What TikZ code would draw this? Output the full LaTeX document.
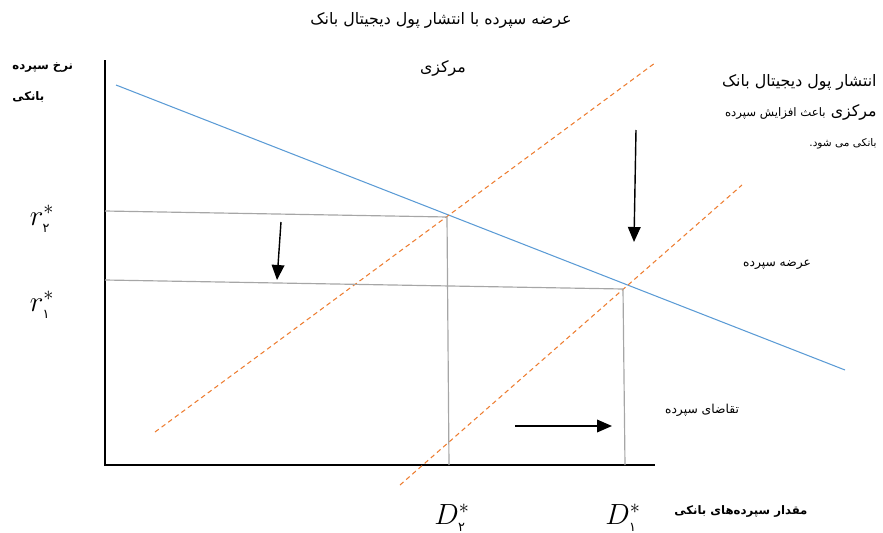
\documentclass[tikz,border=0pt]{standalone}
\usepackage{fontspec}
\usetikzlibrary{arrows.meta, positioning}
\newfontfamily\farsi[Script=Arabic]{DejaVu Sans}
\TeXXeTstate=1
\definecolor{supblue}{HTML}{5B9BD5}
\definecolor{demorange}{HTML}{ED7D31}
\definecolor{guidegray}{HTML}{A6A6A6}
\newcommand{\fasub}[1]{\mbox{\farsi\fontsize{11}{13}\selectfont #1}}

\begin{document}
\begin{tikzpicture}[
  x=0.03cm, y=-0.03cm,
  axisline/.style={draw=black, line width=1.1pt},
  supply/.style={draw=supblue, line width=0.9pt},
  demand/.style={draw=demorange, line width=0.9pt, dash pattern=on 4pt off 3pt},
  guide/.style={draw=guidegray, line width=1pt},
  shiftarrow/.style={-{Triangle[length=4.5mm, width=3.8mm]}, line width=1.2pt},
  biglabel/.style={font=\farsi\fontsize{13.5}{16}\selectfont, inner sep=1pt},
  falabel/.style={font=\farsi\fontsize{10.5}{13}\selectfont, inner sep=1pt},
  faboldlabel/.style={font=\farsi\fontsize{10}{12}\selectfont\bfseries, inner sep=1pt},
  eqlabel/.style={font=\fontsize{23}{27}\selectfont, inner sep=1pt}
]
  \useasboundingbox (0,0) rectangle (883,533);

  %% Axes
  \coordinate (O) at (105,465);
  \coordinate (ytop) at (105,60);
  \coordinate (xend) at (655,465);
  \draw[axisline] (ytop) -- (O) -- (xend);

  %% Supply (blue) and demand (dashed orange)
  \coordinate (s1) at (116,85);   \coordinate (s2) at (845,370);
  \coordinate (dA1) at (155,432); \coordinate (dA2) at (655,63);
  \coordinate (dB1) at (400,485); \coordinate (dB2) at (742,185);
  \draw[supply] (s1) -- (s2);
  \draw[demand] (dA1) -- (dA2);
  \draw[demand] (dB1) -- (dB2);

  %% Equilibrium guides
  \coordinate (r2) at (105,211); \coordinate (e2) at (447,217); \coordinate (d2) at (449,465);
  \coordinate (r1) at (105,280); \coordinate (e1) at (623,289); \coordinate (d1) at (625,465);
  \draw[guide] (r2) -- (e2) -- (d2);
  \draw[guide] (r1) -- (e1) -- (d1);

  %% Shift arrows
  \coordinate (a1s) at (281,222); \coordinate (a1e) at (277,280);
  \coordinate (a2s) at (636,130); \coordinate (a2e) at (634,242);
  \coordinate (a3s) at (515,426); \coordinate (a3e) at (612,426);
  \draw[shiftarrow] (a1s) -- (a1e);
  \draw[shiftarrow] (a2s) -- (a2e);
  \draw[shiftarrow] (a3s) -- (a3e);

  %% Title
  \node[biglabel] (title) at (441,20) {\beginR عرضه سپرده با انتشار پول دیجیتال بانک\endR};
  \node[biglabel] (title2) at (443,68) {\beginR مرکزی\endR};

  %% Axis labels
  \node[faboldlabel, anchor=west] (ylab1) at (11,68) {\beginR نرخ سپرده\endR};
  \node[faboldlabel, anchor=west] (ylab2) at (11,97) {\beginR بانکی\endR};
  \node[faboldlabel] (xlab) at (741,511) {\beginR مقدار سپرده‌های بانکی\endR};

  %% Curve labels
  \node[falabel] (suplab) at (777,265) {\beginR عرضه سپرده\endR};
  \node[falabel] (demlab) at (702,410) {\beginR تقاضای سپرده\endR};
  \node[biglabel, anchor=east] (note1) at (878,82) {\beginR انتشار پول دیجیتال بانک\endR};
  \node[biglabel, anchor=east] (note2) at (878,112)
    {\beginR مرکزی {\farsi\fontsize{10}{12}\selectfont باعث افزایش سپرده}\endR};
  \node[falabel, anchor=east, font=\farsi\fontsize{9}{11}\selectfont] (note3) at (878,144)
    {\beginR بانکی می شود.\endR};

  %% Equilibrium values
  \node[eqlabel] (r2lab) at (42,219) {$r^{*}_{\fasub{۲}}$};
  \node[eqlabel] (r1lab) at (42,305) {$r^{*}_{\fasub{۱}}$};
  \node[eqlabel] (d2lab) at (452,518) {$D^{*}_{\fasub{۲}}$};
  \node[eqlabel] (d1lab) at (623,518) {$D^{*}_{\fasub{۱}}$};
\end{tikzpicture}
\end{document}
